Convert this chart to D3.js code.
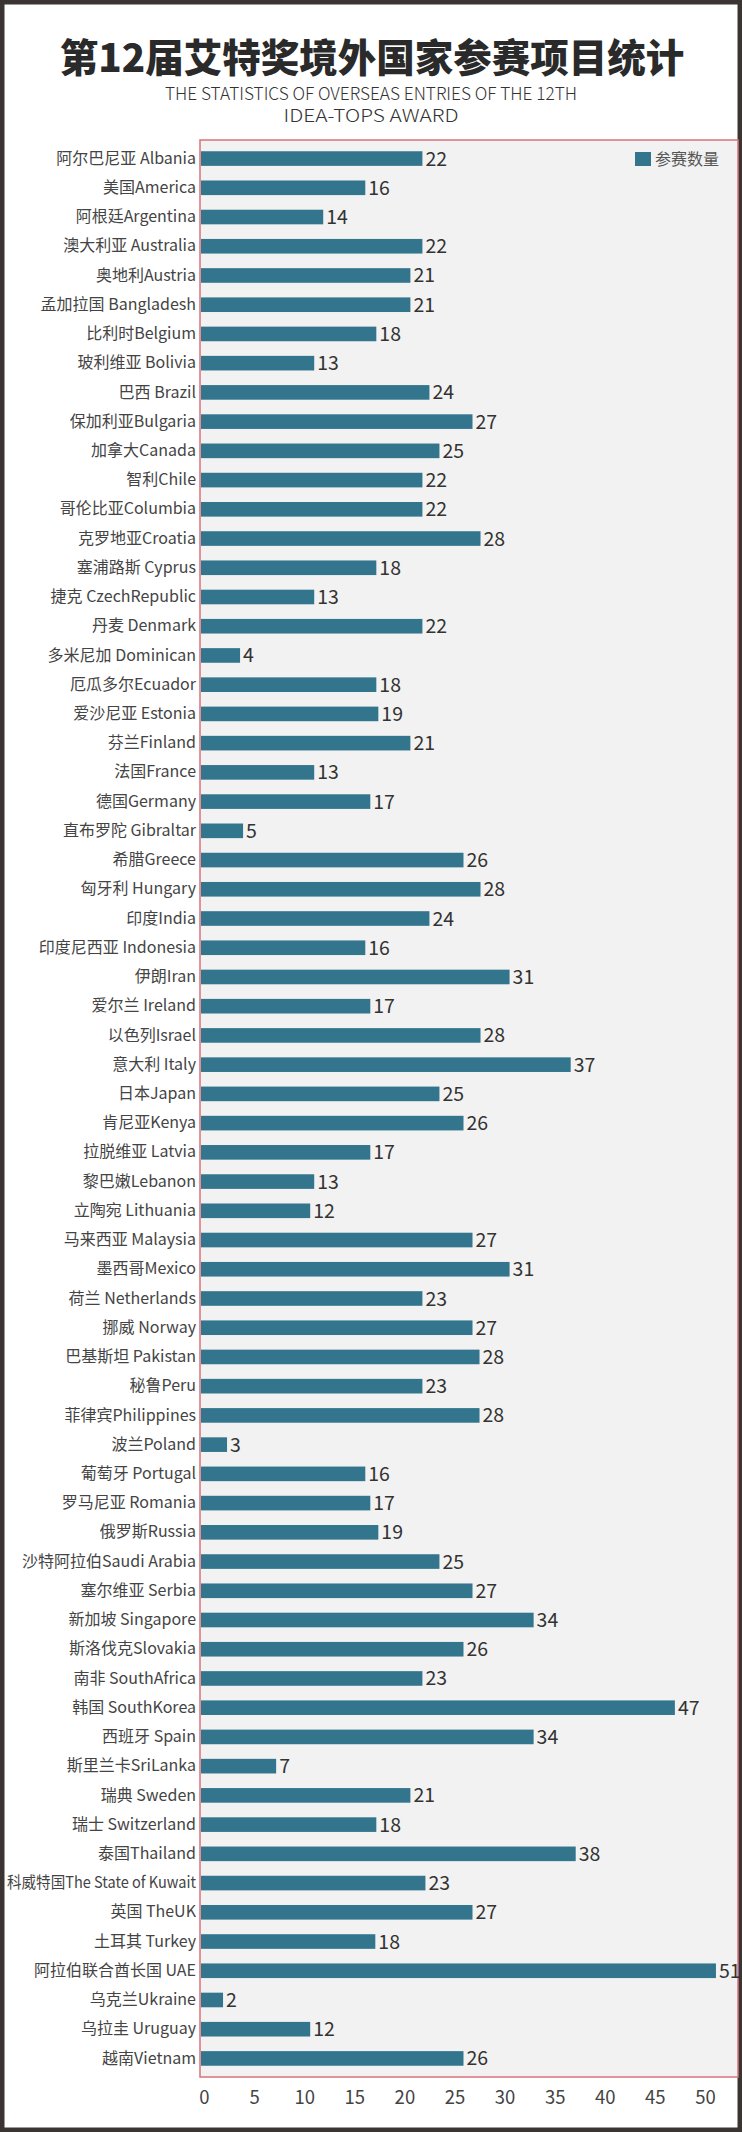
<!DOCTYPE html>
<html>
<head>
<meta charset="utf-8">
<script src="https://cdn.jsdelivr.net/npm/d3@7"></script>
<style>
  body { margin: 0; background: #fff; }
  text { font-family: "Noto Sans CJK SC", "Noto Sans", sans-serif; }
</style>
</head>
<body>
<div id="chart"></div>
<script>
// Chart data
var countries = [
  "阿尔巴尼亚 Albania", "美国America", "阿根廷Argentina", "澳大利亚 Australia", "奥地利Austria",
  "孟加拉国 Bangladesh", "比利时Belgium", "玻利维亚 Bolivia", "巴西 Brazil", "保加利亚Bulgaria",
  "加拿大Canada", "智利Chile", "哥伦比亚Columbia", "克罗地亚Croatia", "塞浦路斯 Cyprus",
  "捷克 CzechRepublic", "丹麦 Denmark", "多米尼加 Dominican", "厄瓜多尔Ecuador", "爱沙尼亚 Estonia",
  "芬兰Finland", "法国France", "德国Germany", "直布罗陀 Gibraltar", "希腊Greece",
  "匈牙利 Hungary", "印度India", "印度尼西亚 Indonesia", "伊朗Iran", "爱尔兰 Ireland",
  "以色列Israel", "意大利  Italy", "日本Japan", "肯尼亚Kenya", "拉脱维亚 Latvia",
  "黎巴嫩Lebanon", "立陶宛 Lithuania", "马来西亚 Malaysia", "墨西哥Mexico", "荷兰 Netherlands",
  "挪威 Norway", "巴基斯坦 Pakistan", "秘鲁Peru", "菲律宾Philippines", "波兰Poland",
  "葡萄牙 Portugal", "罗马尼亚 Romania", "俄罗斯Russia", "沙特阿拉伯Saudi Arabia", "塞尔维亚 Serbia",
  "新加坡 Singapore", "斯洛伐克Slovakia", "南非 SouthAfrica", "韩国 SouthKorea", "西班牙 Spain",
  "斯里兰卡SriLanka", "瑞典 Sweden", "瑞士 Switzerland", "泰国Thailand", "科威特国The State of Kuwait",
  "英国 TheUK", "土耳其 Turkey", "阿拉伯联合酋长国 UAE", "乌克兰Ukraine", "乌拉圭 Uruguay",
  "越南Vietnam"
];
// numbers printed next to the bars
var entries = [
  22, 16, 14, 22, 21,
  21, 18, 13, 24, 27,
  25, 22, 22, 28, 18,
  13, 22, 4, 18, 19,
  21, 13, 17, 5, 26,
  28, 24, 16, 31, 17,
  28, 37, 25, 26, 17,
  13, 12, 27, 31, 23,
  27, 28, 23, 28, 3,
  16, 17, 19, 25, 27,
  34, 26, 23, 47, 34,
  7, 21, 18, 38, 23,
  27, 18, 51, 2, 12,
  26
];
// bar lengths as drawn in the picture (on the axis scale), they do not always equal the printed number
var barLengths = [
  21.8, 16.1, 11.9, 21.8, 20.6,
  20.6, 17.2, 11.0, 22.5, 26.8,
  23.5, 21.8, 21.8, 27.6, 17.2,
  11.0, 21.8, 3.6, 17.2, 17.4,
  20.6, 11.0, 16.6, 3.9, 25.9,
  27.6, 22.5, 16.1, 30.5, 16.6,
  27.6, 36.6, 23.5, 25.9, 16.6,
  11.0, 10.6, 26.8, 30.5, 21.8,
  26.8, 27.5, 21.8, 27.5, 2.3,
  16.1, 16.6, 17.4, 23.5, 26.8,
  32.9, 25.9, 21.8, 47.0, 32.9,
  7.2, 20.6, 17.2, 37.1, 22.1,
  26.8, 17.1, 51.1, 1.9, 10.6,
  25.9
];
var xTicks = [0, 5, 10, 15, 20, 25, 30, 35, 40, 45, 50];
var seriesName = "参赛数量";

var titleText = "第12届艾特奖境外国家参赛项目统计";
var subtitleLines = ["THE STATISTICS OF OVERSEAS ENTRIES OF THE 12TH", "IDEA-TOPS AWARD"];

// SVG dimensions
var svgWidth = 742;
var svgHeight = 2132;

// Plot box
var plot = { left: 200, top: 140, right: 738, bottom: 2077 };

var barColor = "#33758d";

var svg = d3.select("#chart")
  .append("svg")
  .attr("width", svgWidth)
  .attr("height", svgHeight);

// dark outer frame
svg.append("rect")
  .attr("x", 2).attr("y", 2)
  .attr("width", svgWidth - 4).attr("height", svgHeight - 4)
  .attr("fill", "#fff")
  .attr("stroke", "#3a3432")
  .attr("stroke-width", 5);

// Title
svg.append("text")
  .attr("x", svgWidth / 2 + 1)
  .attr("y", 72)
  .attr("text-anchor", "middle")
  .attr("font-size", 38.5)
  .attr("font-weight", 900)
  .attr("fill", "#2a2a2a")
  .text(titleText);

// subtitle, narrow lettering like the original
var subWidths = [412, 175];
svg.selectAll(".subtitle")
  .data(subtitleLines)
  .enter()
  .append("text")
  .attr("class", "subtitle")
  .attr("x", svgWidth / 2)
  .attr("y", (d, i) => 100 + i * 22)
  .attr("text-anchor", "middle")
  .attr("font-size", 18)
  .attr("font-weight", 300)
  .attr("fill", "#333")
  .attr("textLength", (d, i) => subWidths[i])
  .attr("lengthAdjust", "spacingAndGlyphs")
  .text(d => d);

// Scales
var xScale = d3.scaleLinear()
  .domain([0, 53.3])
  .range([plot.left + 4, plot.right]);

var yScale = d3.scaleBand()
  .domain(countries)
  .range([plot.top, plot.bottom])
  .paddingInner(0.5)
  .paddingOuter(0.385);

// plot background
svg.append("rect")
  .attr("x", plot.left)
  .attr("y", plot.top)
  .attr("width", plot.right - plot.left)
  .attr("height", plot.bottom - plot.top)
  .attr("fill", "#f2f2f2")
  .attr("stroke", "#d8737b")
  .attr("stroke-width", 1.5);

var rows = countries.map((c, i) => ({ name: c, value: entries[i], len: barLengths[i] }));

// bars
svg.selectAll(".bar")
  .data(rows)
  .enter()
  .append("rect")
  .attr("class", "bar")
  .attr("x", plot.left + 1)
  .attr("y", d => yScale(d.name))
  .attr("width", d => xScale(d.len) - plot.left - 1)
  .attr("height", yScale.bandwidth())
  .attr("fill", barColor);

// value labels
svg.selectAll(".val")
  .data(rows)
  .enter()
  .append("text")
  .attr("class", "val")
  .attr("x", d => xScale(d.len) + 3)
  .attr("y", d => yScale(d.name) + yScale.bandwidth() / 2)
  .attr("dy", "0.36em")
  .attr("font-size", 19.5)
  .attr("fill", "#333")
  .text(d => d.value);

// category labels
var leftaxis = d3.axisLeft(yScale).tickSize(0).tickPadding(4);
var gy = svg.append("g")
  .attr("transform", `translate(${plot.left},0)`)
  .call(leftaxis);
gy.select(".domain").remove();
gy.selectAll("text")
  .attr("font-family", "Noto Sans CJK SC")
  .attr("font-size", 16)
  .attr("fill", "#444")
  .each(function() {
    // squeeze the few long names so they stay inside the frame
    if (this.getComputedTextLength() > 189) {
      d3.select(this).attr("textLength", 189).attr("lengthAdjust", "spacingAndGlyphs");
    }
  });

// bottom axis
var bottomaxis = d3.axisBottom(xScale).tickValues(xTicks).tickSize(0).tickPadding(14);
var gx = svg.append("g")
  .attr("transform", `translate(0,${plot.bottom})`)
  .call(bottomaxis);
gx.select(".domain").remove();
gx.selectAll("text")
  .attr("font-family", "Noto Sans CJK SC")
  .attr("font-size", 18.5)
  .attr("fill", "#444");

// legend
var legend = svg.append("g").attr("transform", "translate(635,152)");
legend.append("rect")
  .attr("width", 16)
  .attr("height", 14)
  .attr("fill", barColor);
legend.append("text")
  .attr("x", 20)
  .attr("y", 7)
  .attr("dy", "0.36em")
  .attr("font-size", 16)
  .attr("fill", "#555")
  .text(seriesName);
</script>
</body>
</html>
